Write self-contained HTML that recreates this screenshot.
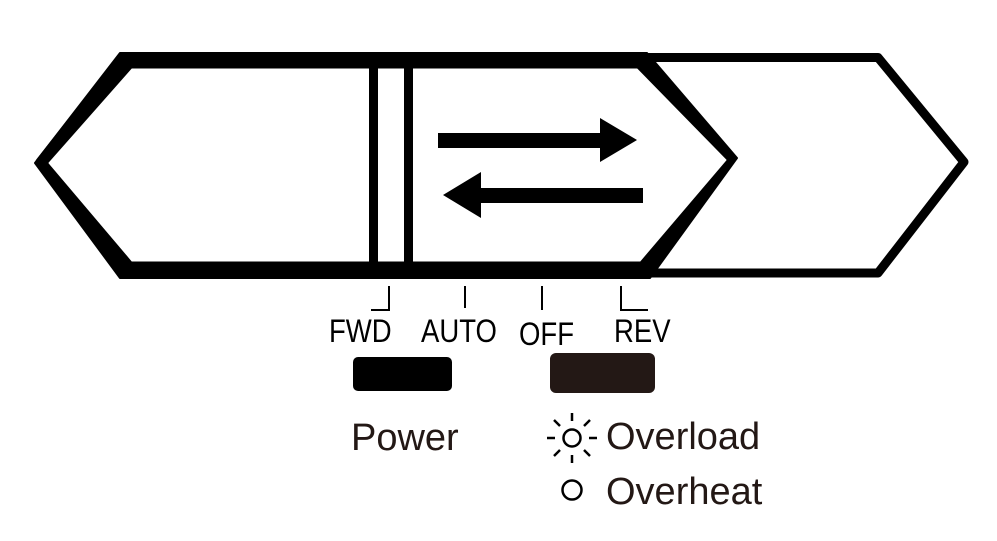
<!DOCTYPE html>
<html><head><meta charset="utf-8"><style>
html,body{margin:0;padding:0;background:#fff;}
svg{display:block;}
text{font-family:"Liberation Sans",sans-serif;}
</style></head><body>
<svg width="997" height="541" viewBox="0 0 997 541" xmlns="http://www.w3.org/2000/svg">
<polygon points="122,57.5 878,57.5 964,162 878,273 122,273 40,162" fill="#fff" stroke="#000" stroke-width="9" stroke-linejoin="round"/>
<polygon points="35,163 120,53 647,53 737,158 650,278 120,278" fill="#000" stroke="#000" stroke-width="2" stroke-linejoin="round"/>
<polygon points="49,163 132,69 637,69 726,160 640,261 132,261" fill="#fff" stroke="#fff" stroke-width="1" stroke-linejoin="round"/>
<rect x="369" y="66" width="9" height="198" fill="#000"/>
<rect x="404" y="66" width="9" height="198" fill="#000"/>
<polygon points="438,133 600,133 600,118 637,140 600,162 600,148 438,148" fill="#000"/>
<polygon points="643,188 481,188 481,172 443,195 481,218 481,203 643,203" fill="#000"/>
<g stroke="#000" stroke-width="2" fill="none">
<polyline points="371,310 389,310 389,286"/>
<line x1="465" y1="286" x2="465" y2="308"/>
<line x1="542" y1="286" x2="542" y2="310"/>
<polyline points="621,286 621,310 648,310"/>
</g>
<g font-size="32" fill="#000">
<text x="329" y="342" transform="translate(329 0) scale(0.86 1) translate(-329 0)">FWD</text>
<text x="421" y="342" transform="translate(421 0) scale(0.86 1) translate(-421 0)">AUTO</text>
<text x="519" y="345" transform="translate(519 0) scale(0.86 1) translate(-519 0)">OFF</text>
<text x="614" y="342" transform="translate(614 0) scale(0.86 1) translate(-614 0)">REV</text>
</g>
<rect x="353" y="357" width="99" height="34" rx="5" fill="#000"/>
<rect x="550" y="353" width="105" height="40" rx="6" fill="#231815"/>
<text x="351" y="450" font-size="38" fill="#231815">Power</text>
<g stroke="#000" stroke-width="2.5" fill="none">
<circle cx="572" cy="438" r="8.5"/>
<line x1="572" y1="421" x2="572" y2="413"/>
<line x1="572" y1="455" x2="572" y2="463"/>
<line x1="555" y1="438" x2="547" y2="438"/>
<line x1="589" y1="438" x2="597" y2="438"/>
<line x1="560" y1="426" x2="554" y2="420"/>
<line x1="584" y1="426" x2="590" y2="420"/>
<line x1="560" y1="450" x2="554" y2="456"/>
<line x1="584" y1="450" x2="590" y2="456"/>
<circle cx="572" cy="490" r="9.5"/>
</g>
<text x="606" y="449" font-size="38" fill="#231815">Overload</text>
<text x="606" y="504" font-size="38" fill="#231815">Overheat</text>
</svg>
</body></html>
